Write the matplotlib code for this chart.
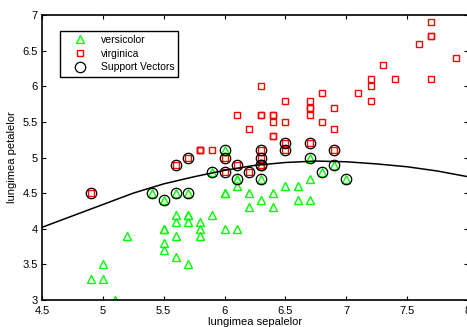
import numpy as np
import matplotlib
matplotlib.use("Agg")
import matplotlib.pyplot as plt

plt.rcParams['font.family'] = ['Liberation Sans', 'DejaVu Sans']

# versicolor: sepal length, petal length
versicolor_sepal = [7.0, 6.4, 6.9, 5.5, 6.5, 5.7, 6.3, 4.9, 6.6, 5.2, 5.0, 5.9, 6.0, 6.1, 5.6,
                    6.7, 5.6, 5.8, 6.2, 5.6, 5.9, 6.1, 6.3, 6.1, 6.4, 6.6, 6.8, 6.7, 6.0, 5.7,
                    5.5, 5.5, 5.8, 6.0, 5.4, 6.0, 6.7, 6.3, 5.6, 5.5, 5.5, 6.1, 5.8, 5.0, 5.6,
                    5.7, 5.7, 6.2, 5.1, 5.7]
versicolor_petal = [4.7, 4.5, 4.9, 4.0, 4.6, 4.5, 4.7, 3.3, 4.6, 3.9, 3.5, 4.2, 4.0, 4.7, 3.6,
                    4.4, 4.5, 4.1, 4.5, 3.9, 4.8, 4.0, 4.9, 4.7, 4.3, 4.4, 4.8, 5.0, 4.5, 3.5,
                    3.8, 3.7, 3.9, 5.1, 4.5, 4.5, 4.7, 4.4, 4.1, 4.0, 4.4, 4.6, 4.0, 3.3, 4.2,
                    4.2, 4.2, 4.3, 3.0, 4.1]

# virginica
virginica_sepal = [6.3, 5.8, 7.1, 6.3, 6.5, 7.6, 4.9, 7.3, 6.7, 7.2, 6.5, 6.4, 6.8, 5.7, 5.8,
                   6.4, 6.5, 7.7, 7.7, 6.0, 6.9, 5.6, 7.7, 6.3, 6.7, 7.2, 6.2, 6.1, 6.4, 7.2,
                   7.4, 7.9, 6.4, 6.3, 6.1, 7.7, 6.3, 6.4, 6.0, 6.9, 6.7, 6.9, 5.8, 6.8, 6.7,
                   6.7, 6.3, 6.5, 6.2, 5.9]
virginica_petal = [6.0, 5.1, 5.9, 5.6, 5.8, 6.6, 4.5, 6.3, 5.8, 6.1, 5.1, 5.3, 5.5, 5.0, 5.1,
                   5.3, 5.5, 6.7, 6.9, 5.0, 5.7, 4.9, 6.7, 4.9, 5.7, 6.0, 4.8, 4.9, 5.6, 5.8,
                   6.1, 6.4, 5.6, 5.1, 5.6, 6.1, 5.6, 5.5, 4.8, 5.4, 5.6, 5.1, 5.1, 5.9, 5.7,
                   5.2, 5.0, 5.2, 5.4, 5.1]

# support vectors
sv_sepal = [4.9, 5.6, 5.7, 6.0, 6.0, 6.1, 6.2, 6.3, 6.3, 6.3, 6.5, 6.5, 6.7, 6.9,
            5.4, 5.5, 5.6, 5.7, 5.9, 6.0, 6.1, 6.3, 6.3, 6.7, 6.8, 6.9, 7.0]
sv_petal = [4.5, 4.9, 5.0, 4.8, 5.0, 4.9, 4.8, 4.9, 5.0, 5.1, 5.1, 5.2, 5.2, 5.1,
            4.5, 4.4, 4.5, 4.5, 4.8, 5.1, 4.7, 4.7, 4.9, 5.0, 4.8, 4.9, 4.7]

# decision boundary
boundary_sepal = [4.5, 4.75, 5.0, 5.25, 5.5, 5.75, 6.0, 6.25, 6.5, 6.75, 7.0, 7.25, 7.5, 7.75, 8.0]
boundary_petal = [4.02, 4.18, 4.34, 4.50, 4.63, 4.73, 4.82, 4.89, 4.93, 4.95, 4.94, 4.91, 4.87, 4.81, 4.73]

fig = plt.figure(figsize=(4.67, 3.27), dpi=100)
ax = fig.add_axes([42 / 467, 27 / 327, 426 / 467, 285 / 327])

green = (0.0, 1.0, 0.0)
red = (1.0, 0.0, 0.0)

ax.plot(versicolor_sepal, versicolor_petal, '^', mfc='none', mec=green, mew=1.0, ms=6,
        linestyle='none', label='versicolor')
ax.plot(virginica_sepal, virginica_petal, 's', mfc='none', mec=red, mew=1.0, ms=5,
        linestyle='none', label='virginica')
ax.plot(sv_sepal, sv_petal, 'o', mfc='none', mec='black', mew=0.9, ms=7.5,
        linestyle='none', label='Support Vectors')
ax.plot(boundary_sepal, boundary_petal, '-', color='black', lw=1.1)

ax.set_xlim(4.5, 8)
ax.set_ylim(3, 7)
ax.set_xticks([4.5, 5, 5.5, 6, 6.5, 7, 7.5, 8])
ax.set_xticklabels(['4.5', '5', '5.5', '6', '6.5', '7', '7.5', '8'])
ax.set_yticks([3, 3.5, 4, 4.5, 5, 5.5, 6, 6.5, 7])
ax.set_yticklabels(['3', '3.5', '4', '4.5', '5', '5.5', '6', '6.5', '7'])
ax.tick_params(direction='in', top=True, right=True, length=3, width=0.8,
               labelsize=8)
ax.tick_params(axis='x', pad=4)
ax.tick_params(axis='y', pad=3)
for s in ax.spines.values():
    s.set_linewidth(1.2)

ax.set_xlabel('lungimea sepalelor', fontsize=8, labelpad=1)
ax.set_ylabel('lungimea petalelor', fontsize=8, labelpad=4)

leg = ax.legend(loc='upper left', bbox_to_anchor=(0.042, 0.944), borderaxespad=0,
                fontsize=7.5, fancybox=False, framealpha=1, edgecolor='black',
                handlelength=3.0, handletextpad=0.5, labelspacing=0.35, borderpad=0.4)
leg.get_frame().set_linewidth(1.0)

fig.savefig('out.png', dpi=100)
